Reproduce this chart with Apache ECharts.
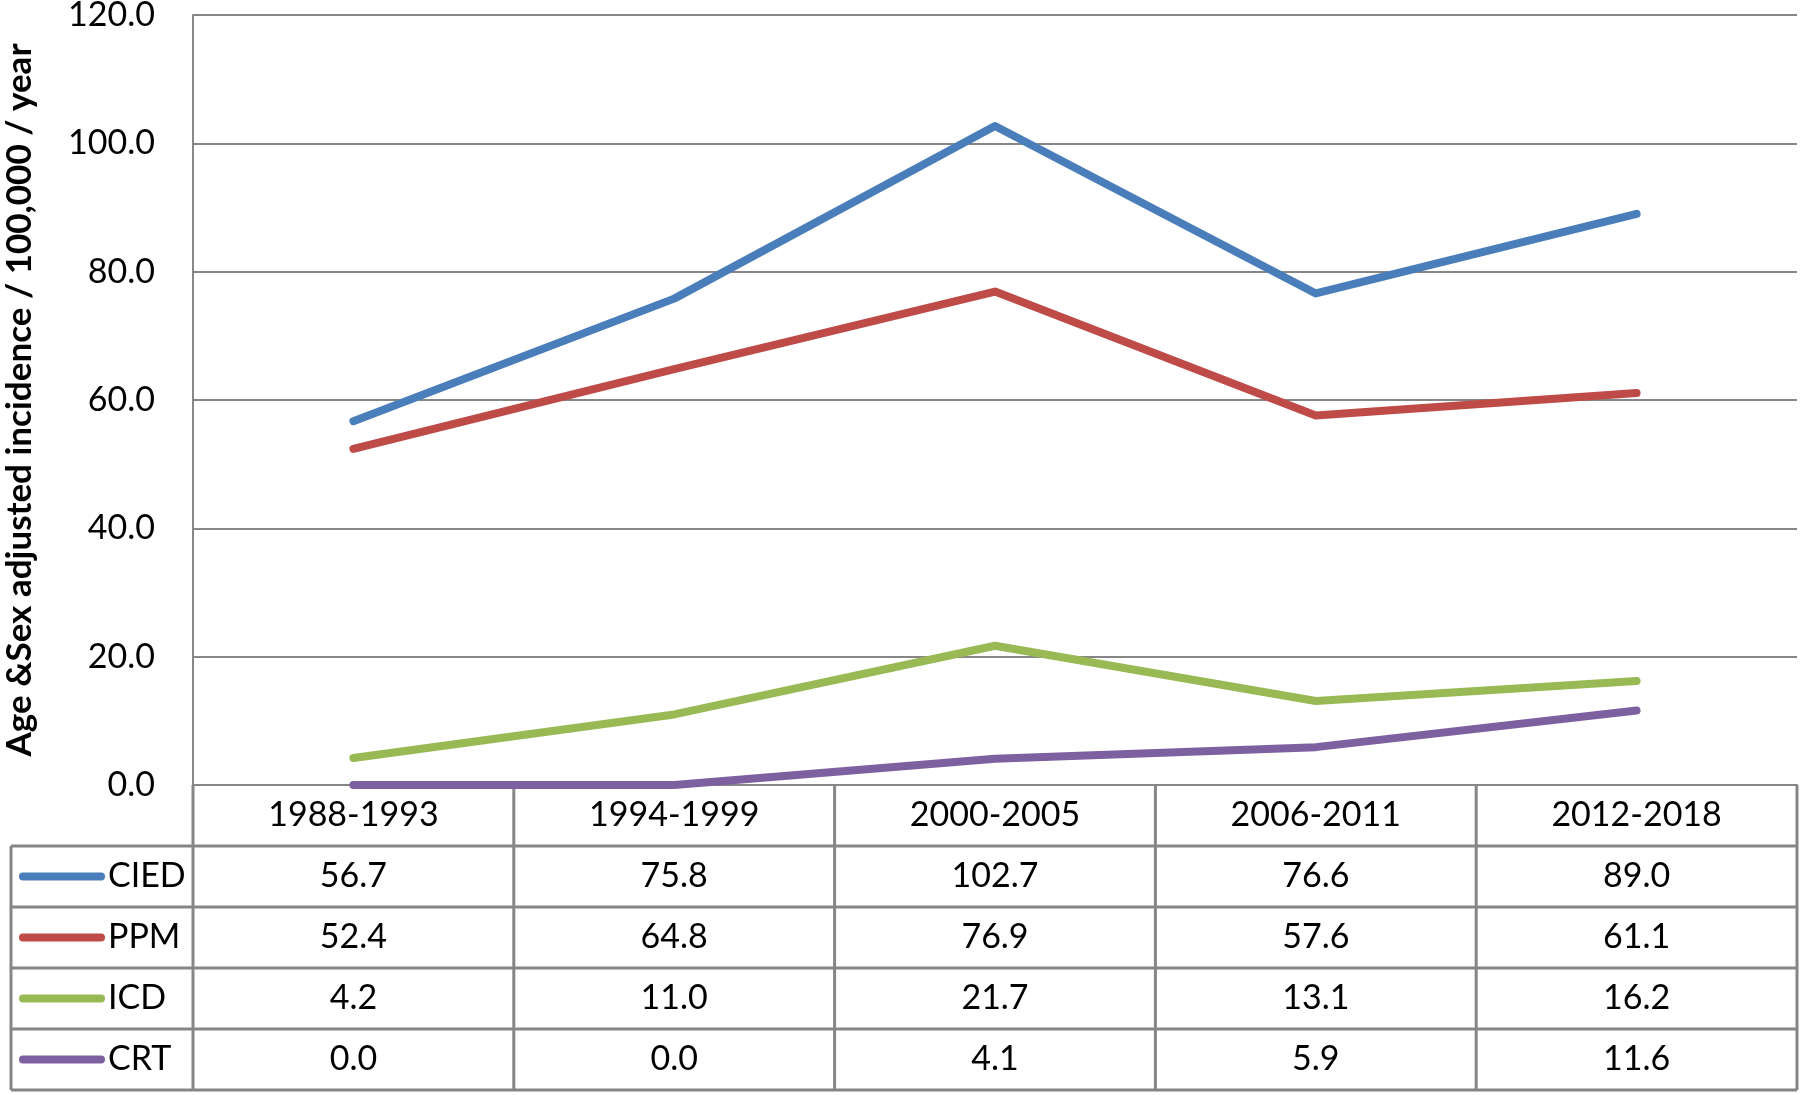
<!DOCTYPE html>
<html>
<head>
<meta charset="utf-8">
<script src="https://cdn.jsdelivr.net/npm/echarts@6/dist/echarts.min.js"></script>
<style>html,body{margin:0;padding:0;background:#fff}#c{width:1800px;height:1095px}</style>
</head>
<body>
<div id="c"></div>
<script>
const categories = ['1988-1993','1994-1999','2000-2005','2006-2011','2012-2018'];
const seriesNames = ['CIED','PPM','ICD','CRT'];
const cied = [56.7, 75.8, 102.7, 76.6, 89.0];
const ppm  = [52.4, 64.8, 76.9, 57.6, 61.1];
const icd  = [4.2, 11.0, 21.7, 13.1, 16.2];
const crt  = [0.0, 0.0, 4.1, 5.9, 11.6];
const colors = ['#4A7EBB', '#BE4B48', '#98B954', '#7D60A0'];
const yTitle = 'Age &Sex adjusted incidence / 100,000 / year';

const allData = [cied, ppm, icd, crt];
const FONT = 'Lato';
const GRAY = '#868686';
const FS = 34;

const chart = echarts.init(document.getElementById('c'), null, {renderer: 'canvas'});
const option = {
  animation: false,
  backgroundColor: '#fff',
  textStyle: {fontFamily: FONT},
  grid: {left: 193, right: 3, top: 15, bottom: 310, containLabel: false, outerBoundsMode: 'none'},
  xAxis: {
    type: 'category', data: categories, boundaryGap: true,
    axisLine: {show: true, lineStyle: {color: GRAY, width: 2}},
    axisTick: {show: false},
    axisLabel: {fontFamily: FONT, fontSize: FS, color: '#000', margin: 30, verticalAlign: 'middle'},
    splitLine: {show: false}
  },
  yAxis: {
    type: 'value', min: 0, max: 120, interval: 20,
    name: yTitle, nameLocation: 'middle', nameRotate: 90, nameGap: 156,
    nameTextStyle: {fontFamily: FONT, fontSize: 35, fontWeight: 'bold', color: '#000'},
    axisLine: {show: true, lineStyle: {color: GRAY, width: 2}},
    axisTick: {show: false},
    axisLabel: {fontFamily: FONT, fontSize: FS, color: '#000', margin: 38, formatter: v => v.toFixed(1)},
    splitLine: {show: true, lineStyle: {color: GRAY, width: 2}}
  },
  series: seriesNames.map((n, i) => ({
    name: n, type: 'line', data: allData[i], showSymbol: false, symbol: 'none',
    lineStyle: {color: colors[i], width: 8, cap: 'round', join: 'round'},
    itemStyle: {color: colors[i]}, z: 3 + i
  }))
};
chart.setOption(option);

// Build data table below the plot, positioned from the axis scales
function buildTable() {
  const n = categories.length;
  const centers = categories.map((c, i) => chart.convertToPixel({xAxisIndex: 0}, i));
  const half = (centers[1] - centers[0]) / 2;
  const bounds = [centers[0] - half].concat(centers.map(c => c + half));
  const y0 = chart.convertToPixel({yAxisIndex: 0}, 0);
  const rowH = 61;
  const headerBottom = y0 + 61;
  const tableBottom = headerBottom + rowH * seriesNames.length;
  const tableLeft = 11;
  const els = [];
  const ls = {stroke: GRAY, lineWidth: 3};
  for (let r = 0; r <= seriesNames.length; r++) {
    const y = headerBottom + r * rowH;
    els.push({type: 'line', shape: {x1: tableLeft, y1: y, x2: bounds[n], y2: y}, style: ls, z: 1});
  }
  els.push({type: 'line', shape: {x1: tableLeft, y1: headerBottom, x2: tableLeft, y2: tableBottom}, style: ls, z: 1});
  bounds.forEach(x => {
    els.push({type: 'line', shape: {x1: x, y1: y0, x2: x, y2: tableBottom}, style: ls, z: 1});
  });
  seriesNames.forEach((name, r) => {
    const cy = headerBottom + r * rowH + rowH / 2;
    els.push({type: 'line', shape: {x1: 23, y1: cy, x2: 101, y2: cy},
      style: {stroke: colors[r], lineWidth: 8, lineCap: 'round'}, z: 2});
    els.push({type: 'text', x: 108, y: cy,
      style: {text: name, fontFamily: FONT, fontSize: FS, fill: '#000', textAlign: 'left', textVerticalAlign: 'middle'}, z: 2});
    allData[r].forEach((v, i) => {
      els.push({type: 'text', x: centers[i], y: cy,
        style: {text: v.toFixed(1), fontFamily: FONT, fontSize: FS, fill: '#000', textAlign: 'center', textVerticalAlign: 'middle'}, z: 2});
    });
  });
  chart.setOption({graphic: {elements: els}});
}
buildTable();
</script>
</body>
</html>
